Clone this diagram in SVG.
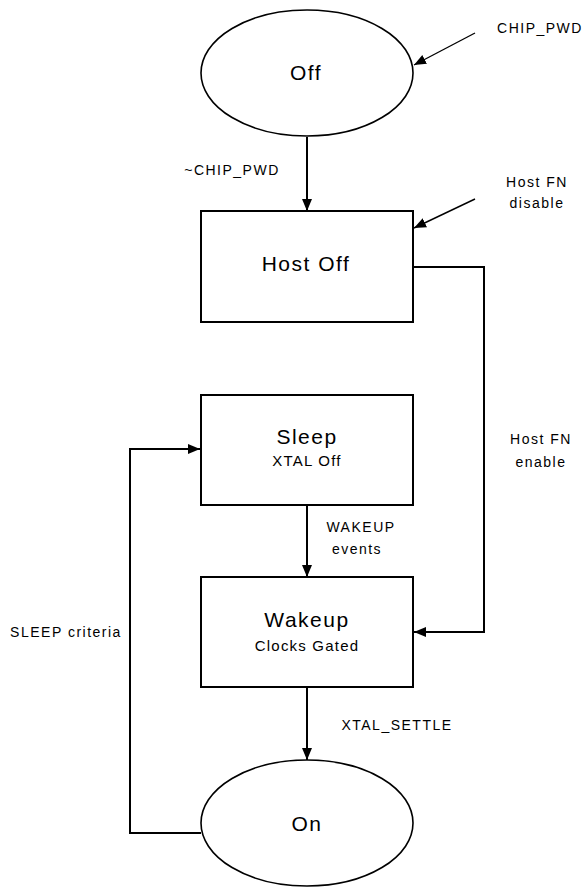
<svg xmlns="http://www.w3.org/2000/svg" width="585" height="888" viewBox="0 0 585 888">
<style>
.node{fill:#fff;stroke:#000;stroke-width:2}
.ell{fill:#fff;stroke:#000;stroke-width:1.6}
.conn{fill:none;stroke:#000;stroke-width:2}
.thin{fill:none;stroke:#000;stroke-width:1.4}
text{font-family:"Liberation Sans",Arial,sans-serif;fill:#000;text-anchor:middle;dominant-baseline:central}
.big{font-size:21px;letter-spacing:1.5px}
.sub{font-size:15px;letter-spacing:1.2px}
.lbl{font-size:14px;letter-spacing:1.5px}
</style>
<defs>
<marker id="ah" viewBox="0 0 12 10" refX="12" refY="5" markerWidth="12" markerHeight="10" markerUnits="userSpaceOnUse" orient="auto">
<path d="M0,0 L12,5 L0,10 Z" fill="#000"/>
</marker>
</defs>
<g id="connectors">
<line class="thin" x1="475" y1="33" x2="414" y2="65" marker-end="url(#ah)"/>
<line class="conn" x1="307" y1="137" x2="307" y2="211" marker-end="url(#ah)"/>
<line class="thin" x1="475" y1="199" x2="414" y2="228" marker-end="url(#ah)"/>
<polyline class="conn" points="413,267 484,267 484,632 414,632" marker-end="url(#ah)"/>
<line class="conn" x1="307" y1="505" x2="307" y2="577" marker-end="url(#ah)"/>
<line class="conn" x1="307" y1="687" x2="307" y2="760" marker-end="url(#ah)"/>
<polyline class="conn" points="201,833 130,833 130,449 200,449" marker-end="url(#ah)"/>
<text class="lbl" x="540" y="28">CHIP_PWD</text>
<text class="lbl" x="232" y="170">~CHIP_PWD</text>
<text class="lbl" x="537" y="182">Host FN</text>
<text class="lbl" x="537" y="203">disable</text>
<text class="lbl" x="541" y="439">Host FN</text>
<text class="lbl" x="541" y="462">enable</text>
<text class="lbl" x="361" y="527">WAKEUP</text>
<text class="lbl" x="357" y="549">events</text>
<text class="lbl" x="397" y="725">XTAL_SETTLE</text>
<text class="lbl" x="66" y="632">SLEEP criteria</text>
</g>
<g id="off">
<ellipse class="ell" cx="307" cy="73" rx="106" ry="63"/>
<text class="big" x="306" y="72">Off</text>
</g>
<g id="host-off">
<rect class="node" x="201" y="211" width="212" height="111"/>
<text class="big" x="306" y="263">Host Off</text>
</g>
<g id="sleep">
<rect class="node" x="201" y="395" width="212" height="110"/>
<text class="big" x="307" y="436">Sleep</text>
<text class="sub" x="307" y="460">XTAL Off</text>
</g>
<g id="wakeup">
<rect class="node" x="201" y="577" width="212" height="110"/>
<text class="big" x="307" y="619">Wakeup</text>
<text class="sub" x="307" y="645">Clocks Gated</text>
</g>
<g id="on">
<ellipse class="ell" cx="307" cy="823" rx="106" ry="63"/>
<text class="big" x="307" y="823">On</text>
</g>
</svg>
